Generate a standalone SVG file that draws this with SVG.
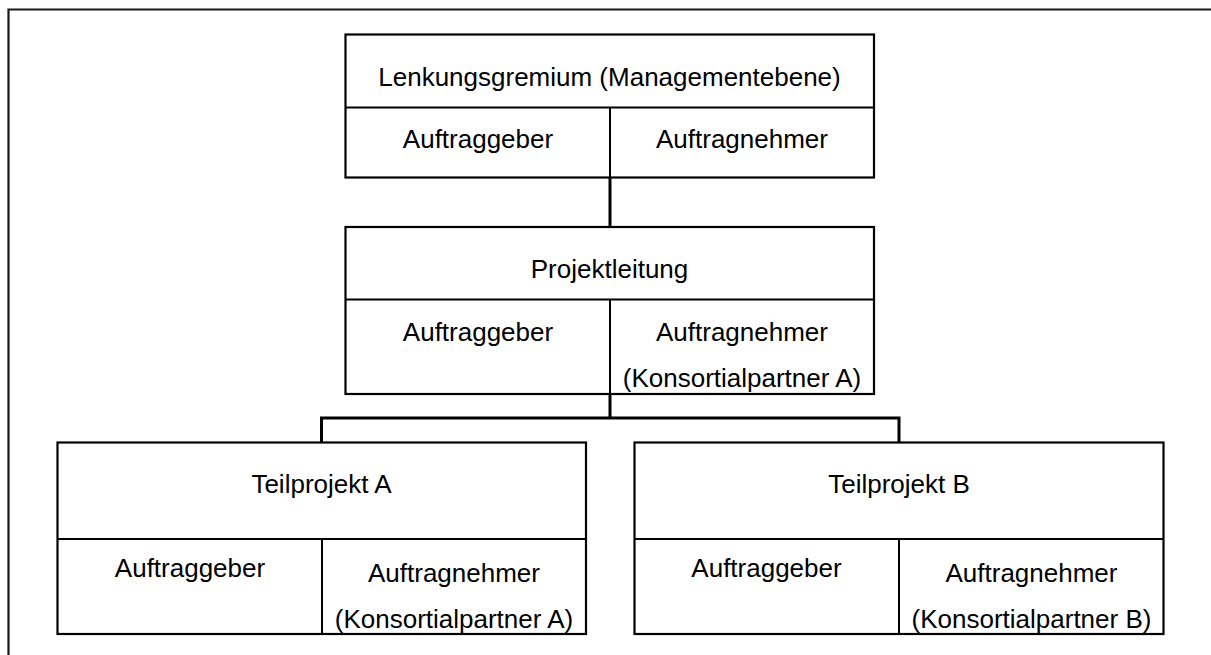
<svg xmlns="http://www.w3.org/2000/svg" width="1211" height="655" viewBox="0 0 1211 655">
  <style>
    .box { fill: #ffffff; stroke: #000000; stroke-width: 2.2; }
    .div { fill: none; stroke: #000000; stroke-width: 2; }
    .conn { fill: none; stroke: #000000; stroke-width: 3; }
    .lbl { font-family: "Liberation Sans", Arial, Helvetica, sans-serif; font-size: 26px; fill: #000000; text-anchor: middle; }
  </style>
  <rect width="1211" height="655" fill="#ffffff"/>
  <!-- outer frame: only left and top edges fall inside the page -->
  <path d="M8.5,655 V9.5 H1211" fill="none" stroke="#1a1a1a" stroke-width="2.2"/>

  <g id="connectors">
    <path class="conn" d="M610,178 V227"/>
    <path class="conn" d="M610,394 V418"/>
    <path class="conn" d="M321.5,442.5 V418 H899 V442.5"/>
  </g>

  <g id="lenkungsgremium">
    <rect class="box" x="345.5" y="34.5" width="528.5" height="143"/>
    <path class="div" d="M345.5,107.5 H874 M610,107.5 V177.5"/>
    <text class="lbl" x="609.5" y="86">Lenkungsgremium (Managementebene)</text>
    <text class="lbl" x="478" y="148">Auftraggeber</text>
    <text class="lbl" x="742" y="148">Auftragnehmer</text>
  </g>

  <g id="projektleitung">
    <rect class="box" x="345.5" y="227" width="528.5" height="167"/>
    <path class="div" d="M345.5,299.5 H874 M610,299.5 V394"/>
    <text class="lbl" x="609.5" y="278">Projektleitung</text>
    <text class="lbl" x="478" y="341">Auftraggeber</text>
    <text class="lbl" x="742" y="341">Auftragnehmer</text>
    <text class="lbl" x="742" y="387">(Konsortialpartner A)</text>
  </g>

  <g id="teilprojekt-a">
    <rect class="box" x="57.5" y="442.5" width="528.5" height="191.5"/>
    <path class="div" d="M57.5,539 H586 M322,539 V634"/>
    <text class="lbl" x="321.5" y="493">Teilprojekt A</text>
    <text class="lbl" x="190" y="577">Auftraggeber</text>
    <text class="lbl" x="454" y="582">Auftragnehmer</text>
    <text class="lbl" x="454" y="628">(Konsortialpartner A)</text>
  </g>

  <g id="teilprojekt-b">
    <rect class="box" x="634.5" y="442.5" width="529" height="191.5"/>
    <path class="div" d="M634.5,539 H1163.5 M899,539 V634"/>
    <text class="lbl" x="899" y="493">Teilprojekt B</text>
    <text class="lbl" x="766.5" y="577">Auftraggeber</text>
    <text class="lbl" x="1031.5" y="582">Auftragnehmer</text>
    <text class="lbl" x="1031.5" y="628">(Konsortialpartner B)</text>
  </g>
</svg>
